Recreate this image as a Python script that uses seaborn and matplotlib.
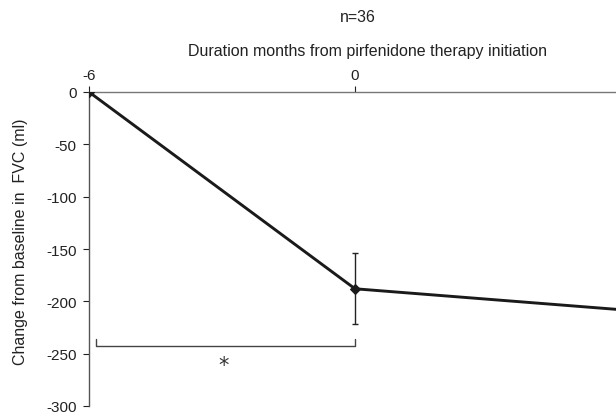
import matplotlib
matplotlib.use("Agg")
import matplotlib.pyplot as plt
import seaborn as sns
import pandas as pd

# data
months = [-6, 0, 6]
fvc_change = [0, -188, -208]
fvc_err = [0, 34, 36]
y_ticks = [0, -50, -100, -150, -200, -250, -300]
x_ticks = [-6, 0, 6]
bracket_level = -243

sns.set_theme(style="white")
plt.rcParams['font.family'] = ['Liberation Sans', 'DejaVu Sans']
plt.rcParams['axes.unicode_minus'] = False

df = pd.DataFrame({'month': months, 'change': fvc_change, 'err': fvc_err})

fig = plt.figure(figsize=(6.16, 4.14), dpi=100)
# axes runs a little past the right edge, as in the original figure crop
ax = fig.add_axes([89 / 616, 1 - 407 / 414, 532 / 616, 314 / 414])

ax.errorbar(df['month'], df['change'], yerr=df['err'], fmt='none',
            ecolor='#222222', elinewidth=1, capsize=2.2, capthick=1, zorder=2)
sns.lineplot(data=df, x='month', y='change', ax=ax, color='#1a1a1a',
             linewidth=2.1, marker='D', markersize=5.5, markeredgecolor='#1a1a1a', zorder=3)

ax.set_xlim(months[0], months[-1])
ax.set_ylim(-300, 0)
ax.set_yticks(y_ticks)
ax.set_xticks(x_ticks)
ax.tick_params(axis='both', labelsize=11, colors='#222222', length=4, width=0.8)
ax.tick_params(axis='y', left=True, pad=5)
ax.xaxis.tick_top()
ax.xaxis.set_label_position('top')
ax.tick_params(axis='x', top=True, pad=3)

for side in ['right', 'bottom']:
    ax.spines[side].set_visible(False)
ax.spines['left'].set_color('#555555')
ax.spines['top'].set_color('#777777')
ax.spines['left'].set_linewidth(1)
ax.spines['top'].set_linewidth(1)

ax.set_xlabel('Duration months from pirfenidone therapy initiation', fontsize=11.5,
              color='#222222', va='center')
ax.xaxis.set_label_coords(0.5244, 1.1306)
ax.set_ylabel('Change from baseline in  FVC (ml)', fontsize=11.5, color='#222222', va='center')
ax.yaxis.set_label_coords(-0.128, 0.5255)
fig.text(358 / 616, 1 - 18 / 414, 'n=36', ha='center', va='center',
         fontsize=11.5, color='#222222')

# significance bracket between -6 and 0 months
bx0, bx1 = months[0] + 0.16, months[1]
ax.plot([bx0, bx0, bx1, bx1], [bracket_level + 7, bracket_level, bracket_level, bracket_level + 7],
        color='#444444', linewidth=1, clip_on=False)
ax.text((bx0 + bx1) / 2 - 0.05, bracket_level - 18, '*', ha='center', va='center',
        fontsize=15, color='#333333', family='DejaVu Sans')

fig.savefig('out.png', dpi=100)
